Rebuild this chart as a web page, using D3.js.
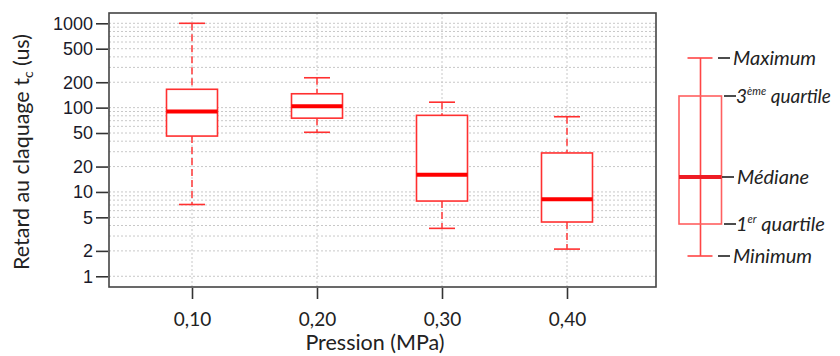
<!DOCTYPE html>
<html><head><meta charset="utf-8">
<script src="https://cdn.jsdelivr.net/npm/d3@7"></script>
<style>body{margin:0;background:#fff}svg{display:block}</style>
</head><body><svg id="c" width="840" height="356"></svg>
<script>
const categories = ["0,10", "0,20", "0,30", "0,40"];
const pressures = [0.10, 0.20, 0.30, 0.40];
const mins    = [7.1, 51, 3.7, 2.1];
const q1s     = [46, 75, 7.8, 4.4];
const medians = [90, 104, 16, 8.2];
const q3s     = [165, 146, 81, 29];
const maxs    = [1000, 226, 116, 78];
const yTicks  = [1, 2, 5, 10, 20, 50, 100, 200, 500, 1000];
const legendLabels = ["Maximum", "3ème quartile", "Médiane", "1er quartile", "Minimum"];

const svg = d3.select("#c");
const L = 109, R = 656, T = 13, B = 287;
const x = d3.scaleLinear().domain([0.0336, 0.4712]).range([L, R]);
const y = d3.scaleLog().domain([0.746, 1325]).range([B, T]);

// grid
const minor = [];
for (let k = 0; k <= 2; k++) for (let m = 1; m <= 9; m++) minor.push(m * Math.pow(10, k));
minor.push(1000);
const g = svg.append("g");
g.selectAll("line.h").data(minor).join("line")
  .attr("x1", L).attr("x2", R).attr("y1", d => y(d)).attr("y2", d => y(d))
  .attr("stroke", "#c8c8c8").attr("stroke-width", 1).attr("stroke-dasharray", "2,2");
g.selectAll("line.v").data(pressures).join("line")
  .attr("x1", d => x(d)).attr("x2", d => x(d)).attr("y1", T).attr("y2", B)
  .attr("stroke", "#c8c8c8").attr("stroke-width", 1).attr("stroke-dasharray", "2,2");

// boxes
const data = pressures.map((p, i) => ({p, min: mins[i], q1: q1s[i], med: medians[i], q3: q3s[i], max: maxs[i]}));
const bw = 51, cw = 26;
const bx = svg.append("g");
data.forEach(d => {
  const cx = x(d.p);
  bx.append("line").attr("x1", cx).attr("x2", cx).attr("y1", y(d.max)).attr("y2", y(d.q3))
    .attr("stroke", "#ff4545").attr("stroke-width", 1.6).attr("stroke-dasharray", "7,4");
  bx.append("line").attr("x1", cx).attr("x2", cx).attr("y1", y(d.q1)).attr("y2", y(d.min))
    .attr("stroke", "#ff4545").attr("stroke-width", 1.6).attr("stroke-dasharray", "7,4");
  [d.max, d.min].forEach(v => bx.append("line").attr("x1", cx - cw/2).attr("x2", cx + cw/2)
    .attr("y1", y(v)).attr("y2", y(v)).attr("stroke", "#ff3030").attr("stroke-width", 1.6));
  bx.append("rect").attr("x", cx - bw/2).attr("width", bw).attr("y", y(d.q3)).attr("height", y(d.q1) - y(d.q3))
    .attr("fill", "#fff").attr("stroke", "#ff3030").attr("stroke-width", 1.6);
  bx.append("line").attr("x1", cx - bw/2).attr("x2", cx + bw/2).attr("y1", y(d.med)).attr("y2", y(d.med))
    .attr("stroke", "#ff0000").attr("stroke-width", 4);
});

// frame
svg.append("rect").attr("x", L).attr("y", T).attr("width", R - L).attr("height", B - T)
  .attr("fill", "none").attr("stroke", "#444").attr("stroke-width", 1.6);

// y axis
const ya = svg.append("g").attr("transform", `translate(${L - 1},0)`)
  .call(d3.axisLeft(y).tickValues(yTicks).tickFormat(d3.format("d")).tickSize(12).tickPadding(3));
ya.select(".domain").remove();
ya.selectAll(".tick line").attr("stroke", "#333").attr("stroke-width", 1.6);
ya.selectAll(".tick text").attr("font-family", "Liberation Sans, Arial, sans-serif").attr("font-size", 18).attr("fill", "#1a1a2a");

// x axis
const xa = svg.append("g").attr("transform", `translate(0,${B + 1})`)
  .call(d3.axisBottom(x).tickValues(pressures).tickFormat((d, i) => categories[i]).tickSize(11).tickPadding(14));
xa.select(".domain").remove();
xa.selectAll(".tick line").attr("stroke", "#333").attr("stroke-width", 1.6);
xa.selectAll(".tick text").attr("font-family", "Lato, sans-serif").attr("font-size", 19).attr("fill", "#222");

svg.append("text").attr("x", 375).attr("y", 350).attr("text-anchor", "middle")
  .attr("font-family", "Lato, sans-serif").attr("font-size", 21.5).attr("fill", "#222").text("Pression (MPa)");

const yl = svg.append("text").attr("transform", `translate(29,${(T + B) / 2 + 2}) rotate(-90)`)
  .attr("text-anchor", "middle").attr("font-family", "Lato, sans-serif").attr("font-size", 21.5).attr("fill", "#222");
yl.append("tspan").text("Retard au claquage t");
yl.append("tspan").attr("font-size", 14).attr("dy", 4).text("c");
yl.append("tspan").attr("dy", -4).text(" (us)");

// legend (schematic)
const lg = svg.append("g");
const lx = 700.5, lyMax = 58, lyQ3 = 96, lyMed = 177, lyQ1 = 224, lyMin = 256;
lg.append("line").attr("x1", lx).attr("x2", lx).attr("y1", lyMax).attr("y2", lyMin).attr("stroke", "#ff4545").attr("stroke-width", 1.6);
[lyMax, lyMin].forEach(v => lg.append("line").attr("x1", lx - 13).attr("x2", lx + 12).attr("y1", v).attr("y2", v).attr("stroke", "#ff4545").attr("stroke-width", 1.6));
lg.append("rect").attr("x", 679).attr("y", lyQ3).attr("width", 42.5).attr("height", lyQ1 - lyQ3).attr("fill", "none").attr("stroke", "#ff6060").attr("stroke-width", 1.6);
lg.append("line").attr("x1", 679).attr("x2", 721.5).attr("y1", lyMed).attr("y2", lyMed).attr("stroke", "#ee1c24").attr("stroke-width", 4);
const lys = [lyMax, lyQ3, lyMed, lyQ1, lyMin];
const dashX = [718, 724, 722, 724, 718];
lys.forEach((v, i) => {
  lg.append("line").attr("x1", dashX[i]).attr("x2", dashX[i] + 12).attr("y1", v).attr("y2", v).attr("stroke", "#111").attr("stroke-width", 1.5);
  const t = lg.append("text").attr("x", dashX[i] + (i === 1 || i === 3 ? 12 : 15)).attr("y", v + 7).attr("font-family", "Lato, sans-serif")
    .attr("font-style", "italic").attr("font-size", i === 1 ? 19 : 20).attr("fill", "#222");
  const lab = legendLabels[i];
  if (i === 1) { t.append("tspan").text("3"); t.append("tspan").attr("font-size", 11).attr("dy", -8).text("ème"); t.append("tspan").attr("dy", 8).text(" quartile"); }
  else if (i === 3) { t.append("tspan").text("1"); t.append("tspan").attr("font-size", 11).attr("dy", -8).text("er"); t.append("tspan").attr("dy", 8).text(" quartile"); }
  else t.text(lab);
});
</script></body></html>
